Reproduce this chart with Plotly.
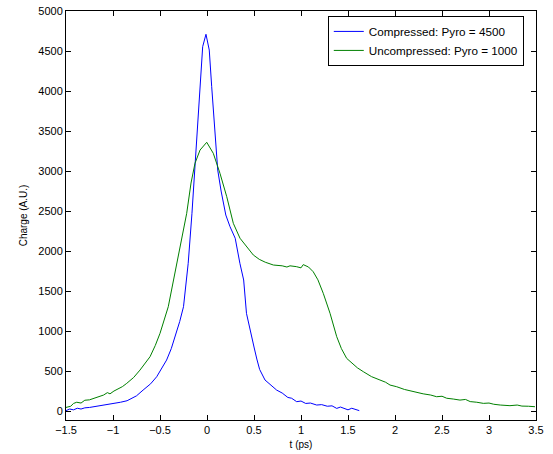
import plotly.graph_objects as go

# Compressed beam (Pyro = 4500)
t_comp = [-1.5, -1.46, -1.42, -1.38, -1.34, -1.3, -1.25, -1.2, -1.15, -1.1, -1.03, -0.98,
          -0.92, -0.85, -0.8, -0.75, -0.68, -0.6, -0.535, -0.48, -0.43, -0.38, -0.34,
          -0.29, -0.25, -0.2, -0.16, -0.13, -0.1, -0.074, -0.046, -0.011, 0.024, 0.05,
          0.085, 0.114, 0.15, 0.2, 0.245, 0.3, 0.35, 0.39, 0.42, 0.457, 0.5, 0.53, 0.56,
          0.617, 0.68, 0.741, 0.8, 0.86, 0.9, 0.954, 1.0, 1.05, 1.1, 1.167, 1.22, 1.28,
          1.33, 1.38, 1.42, 1.46, 1.5, 1.54, 1.58, 1.62]
q_comp = [5, 25, 15, 35, 25, 40, 45, 55, 60, 70, 82, 95, 110, 129, 160, 190, 262, 340,
          429, 530, 637, 780, 929, 1120, 1304, 1846, 2471, 3012, 3637, 4137, 4554, 4709,
          4512, 4054, 3429, 3012, 2750, 2450, 2304, 2160, 1846, 1638, 1221, 1013, 800,
          650, 520, 388, 320, 262, 225, 170, 160, 117, 125, 95, 100, 75, 80, 60, 65, 33,
          50, 30, 15, 35, 20, 5]

# Uncompressed beam (Pyro = 1000)
t_unc = [-1.5, -1.45, -1.42, -1.386, -1.34, -1.3, -1.25, -1.21, -1.15, -1.1, -1.06,
         -1.032, -0.99, -0.95, -0.9, -0.854, -0.78, -0.713, -0.606, -0.55, -0.5, -0.412,
         -0.34, -0.287, -0.216, -0.17, -0.128, -0.074, -0.003, 0.067, 0.138, 0.21, 0.28,
         0.351, 0.422, 0.493, 0.556, 0.62, 0.706, 0.8, 0.85, 0.883, 0.95, 1.0, 1.024,
         1.08, 1.13, 1.18, 1.237, 1.309, 1.38, 1.43, 1.486, 1.55, 1.6, 1.663, 1.75,
         1.84, 1.9, 1.947, 2.018, 2.1, 2.195, 2.25, 2.3, 2.38, 2.443, 2.5, 2.55, 2.62,
         2.691, 2.75, 2.8, 2.87, 2.94, 3.0, 3.05, 3.12, 3.223, 3.3, 3.35, 3.42, 3.489]
q_unc = [45, 60, 95, 110, 100, 135, 140, 158, 175, 200, 230, 215, 250, 270, 305, 346,
         420, 512, 679, 820, 971, 1304, 1721, 2054, 2471, 2850, 3096, 3262, 3359, 3221,
         2971, 2679, 2346, 2160, 2054, 1950, 1896, 1860, 1825, 1815, 1800, 1815, 1805,
         1790, 1830, 1800, 1741, 1640, 1471, 1221, 929, 780, 658, 590, 540, 492, 430,
         388, 360, 325, 304, 270, 242, 230, 215, 200, 179, 185, 160, 150, 137, 145, 118,
         110, 96, 100, 85, 75, 67, 75, 62, 60, 54]

fig = go.Figure()
fig.add_trace(go.Scatter(x=t_comp, y=q_comp, mode='lines',
                         name='Compressed: Pyro = 4500',
                         line=dict(color='rgb(0,0,255)', width=1)))
fig.add_trace(go.Scatter(x=t_unc, y=q_unc, mode='lines',
                         name='Uncompressed: Pyro = 1000',
                         line=dict(color='rgb(0,128,0)', width=1)))

axis_style = dict(showgrid=False, zeroline=False, showline=True, linecolor='black',
                  linewidth=1, mirror='ticks', ticks='inside', ticklen=5,
                  tickcolor='black', automargin=False,
                  tickfont=dict(family='Arial', size=11, color='black'))

fig.update_xaxes(range=[-1.5, 3.5], dtick=0.5, tick0=-1.5,
                 title=dict(text='t (ps)', font=dict(family='Arial', size=10, color='black'),
                            standoff=5),
                 **axis_style)
fig.update_yaxes(range=[-112, 5000], dtick=500, tick0=0,
                 title=dict(text='Charge (A.U.)', font=dict(family='Arial', size=10, color='black'),
                            standoff=8),
                 **axis_style)

fig.update_layout(
    width=553, height=454,
    margin=dict(l=66, r=17, t=11, b=34, autoexpand=False),
    plot_bgcolor='white', paper_bgcolor='white',
    legend=dict(x=0.557, y=0.988, xanchor='left', yanchor='top',
                bordercolor='black', borderwidth=1, bgcolor='white',
                font=dict(family='Arial', size=11.7, color='black'),
                tracegroupgap=0, itemwidth=30),
    showlegend=True,
)

# drop the default body margin so the figure sits at the page corner
fig.write_html("out.html", config={'displayModeBar': False},
               post_script="document.body.style.margin = '0';")
